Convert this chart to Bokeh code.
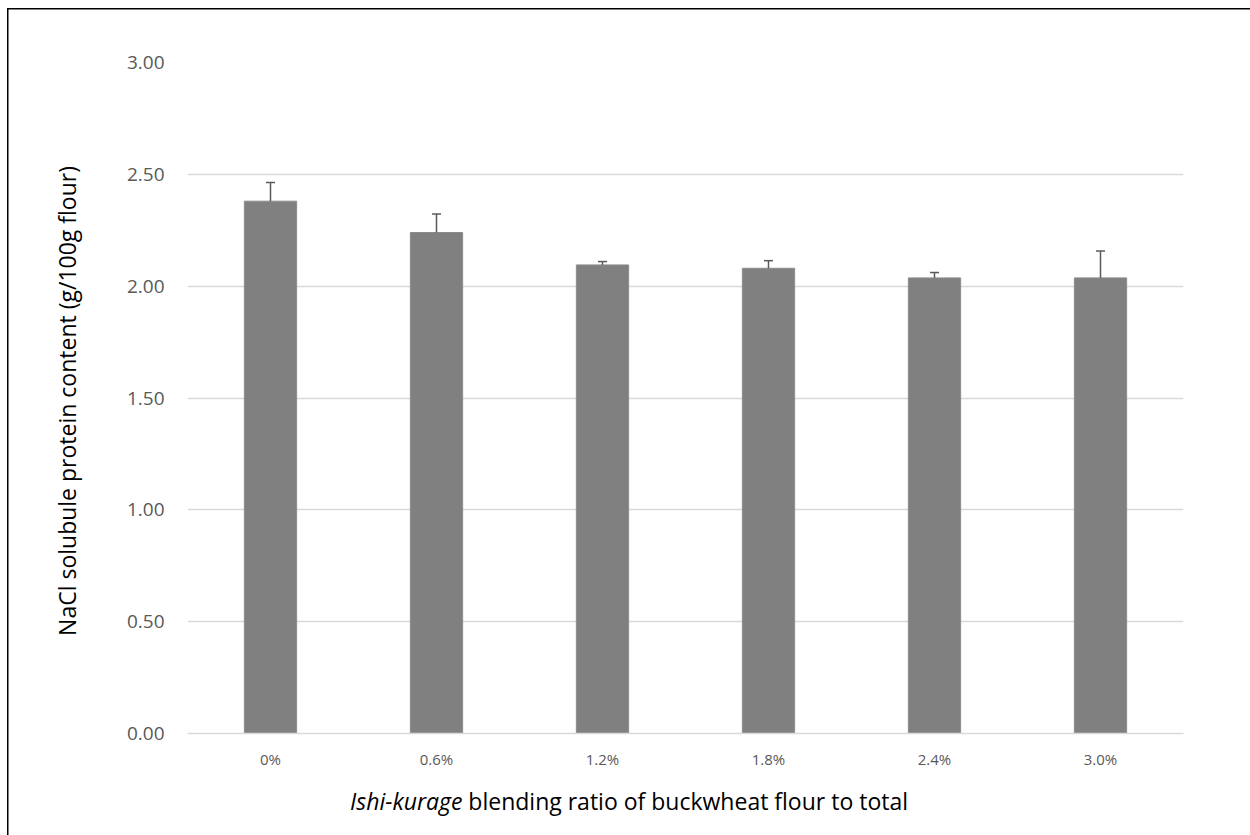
from bokeh.plotting import figure
from bokeh.models import FactorRange, Range1d, FixedTicker, NumeralTickFormatter, Div
from bokeh.layouts import column
from bokeh.embed import file_html
from bokeh.resources import INLINE

categories = ["0%", "0.6%", "1.2%", "1.8%", "2.4%", "3.0%"]
values = [2.38, 2.24, 2.095, 2.08, 2.037, 2.037]
errors = [0.083, 0.083, 0.015, 0.034, 0.024, 0.12]
y_ticks = [0.0, 0.5, 1.0, 1.5, 2.0, 2.5, 3.0]
x_title_italic = "Ishi-kurage"
x_title_rest = "blending ratio of buckwheat flour to total"
y_title = "NaCl solubule protein content  (g/100g flour)"

upper = [v + e for v, e in zip(values, errors)]

FONT = "Open Sans"

p = figure(
    width=1250, height=785,
    x_range=FactorRange(*categories, range_padding=0),
    y_range=Range1d(0, 3),
    output_backend="svg", toolbar_location=None,
    min_border_left=187, min_border_right=67,
    min_border_top=62, min_border_bottom=52,
)
p.outline_line_color = None
p.background_fill_color = "white"
p.border_fill_color = None

p.vbar(x=categories, top=values, width=0.315, fill_color="#808080", line_color="#8c8c8c", line_width=1)
p.segment(x0=categories, y0=values, x1=categories, y1=upper, line_color="#5a5a5a", line_width=1.5)
p.scatter(x=categories, y=upper, marker="dash", size=9, line_color="#5a5a5a", line_width=1.5)

p.xgrid.grid_line_color = None
p.ygrid.grid_line_color = "#d9d9d9"
p.ygrid.grid_line_width = 1.3
p.ygrid.ticker = FixedTicker(ticks=y_ticks)

p.yaxis.ticker = FixedTicker(ticks=y_ticks)
p.yaxis.formatter = NumeralTickFormatter(format="0.00")
p.yaxis.axis_line_color = None
p.yaxis.major_tick_line_color = None
p.yaxis.minor_tick_line_color = None
p.yaxis.major_tick_out = 0
p.yaxis.major_tick_in = 0
p.yaxis.major_label_standoff = 23
p.yaxis.major_label_text_font = FONT
p.yaxis.major_label_text_font_size = "19px"
p.yaxis.major_label_text_color = "#595959"
p.yaxis.axis_label = y_title
p.yaxis.axis_label_text_font = FONT
p.yaxis.axis_label_text_font_size = "23px"
p.yaxis.axis_label_text_font_style = "normal"
p.yaxis.axis_label_text_color = "#000000"
p.yaxis.axis_label_standoff = 41

p.xaxis.axis_line_color = "#d9d9d9"
p.xaxis.axis_line_width = 1.3
p.xaxis.major_tick_line_color = None
p.xaxis.minor_tick_line_color = None
p.xaxis.major_tick_out = 0
p.xaxis.major_tick_in = 0
p.xaxis.major_label_standoff = 15
p.xaxis.major_label_text_font = FONT
p.xaxis.major_label_text_font_size = "15px"
p.xaxis.major_label_text_color = "#595959"

title_html = (
    '<div style="padding-left:345px; font-family:\'Open Sans\'; font-size:23px; '
    'line-height:22px; color:#000; white-space:nowrap;">'
    f'<i>{x_title_italic}</i> {x_title_rest}</div>'
)
xtitle = Div(text=title_html, width=1250, height=50)

layout = column(p, xtitle, spacing=0)
layout.styles = {
    "background": "linear-gradient(#000,#000) 7px 8px / 1.5px 100% no-repeat, "
                  "linear-gradient(#000,#000) 7px 8px / 100% 1.5px no-repeat, #fff"
}

open("out.html", "w").write(file_html(layout, INLINE))
